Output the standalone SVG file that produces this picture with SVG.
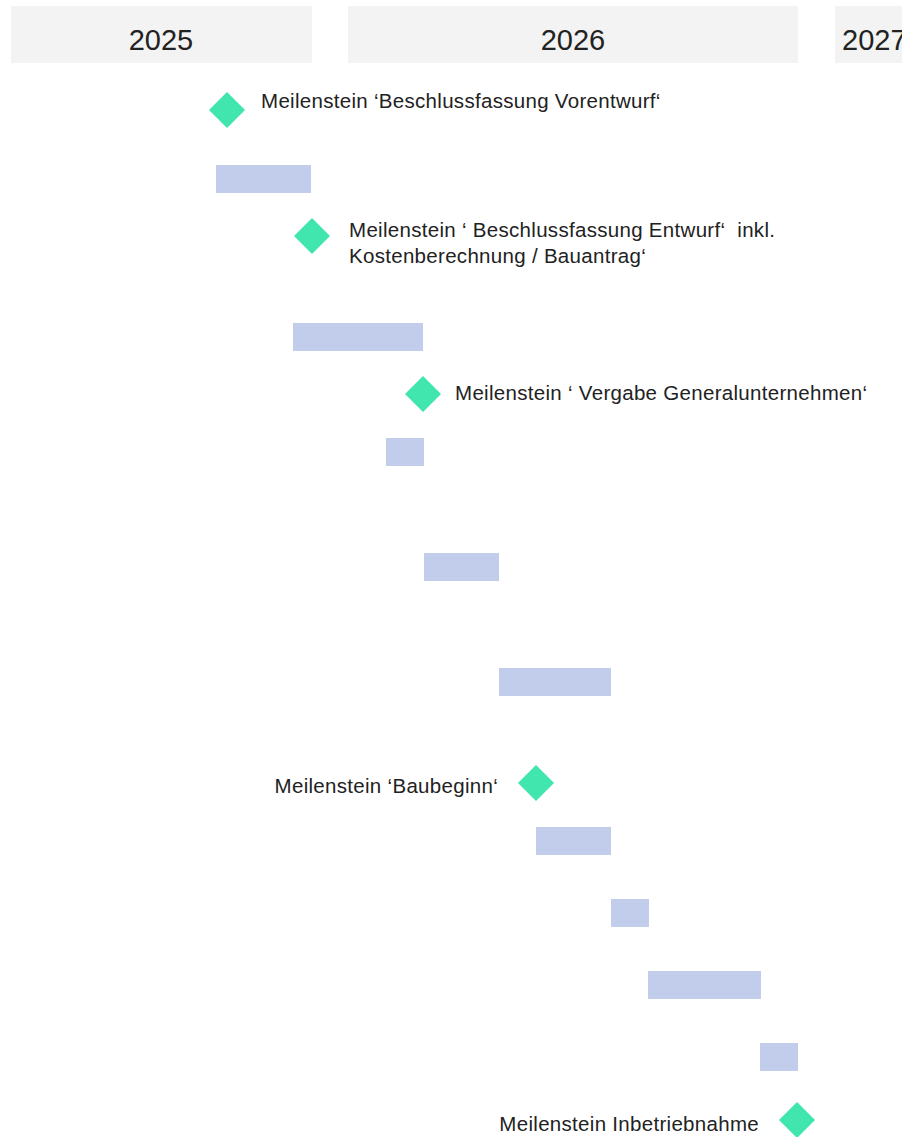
<svg xmlns="http://www.w3.org/2000/svg" width="902" height="1137" viewBox="0 0 902 1137">
<style>
.yr{fill:#f3f3f3}
.yt{font-family:"Liberation Sans",Arial,sans-serif;font-size:29px;fill:#222;text-anchor:middle}
.bar{fill:#c1cdeb}
.ms{fill:#40e6ae}
.lb{font-family:"Liberation Sans",Arial,sans-serif;font-size:20.5px;letter-spacing:0.3px;fill:#222}
.end{text-anchor:end}
</style>
<defs>
<path id="dia" d="M0,-18 L18,0 L0,18 L-18,0 Z"/>
</defs>
<rect width="902" height="1137" fill="#fff"/>
<g id="header">
<g id="y2025"><rect class="yr" x="11" y="6" width="301" height="57"/><text class="yt" x="161" y="50">2025</text></g>
<g id="y2026"><rect class="yr" x="348" y="6" width="450" height="57"/><text class="yt" x="573" y="50">2026</text></g>
<g id="y2027"><rect class="yr" x="835" y="6" width="80" height="57"/><text class="yt" x="842" y="50" style="text-anchor:start">2027</text></g>
</g>
<g id="connectors"></g>
<g id="m1"><use href="#dia" class="ms" x="227" y="110"/><text class="lb" x="261" y="108">Meilenstein ‘Beschlussfassung Vorentwurf‘</text></g>
<g id="b1"><rect class="bar" x="216" y="165" width="95" height="28"/></g>
<g id="m2"><use href="#dia" class="ms" x="312" y="236"/><text class="lb" x="349" y="237">Meilenstein ‘ Beschlussfassung Entwurf‘&#160;&#160;inkl.</text><text class="lb" x="349" y="263">Kostenberechnung / Bauantrag‘</text></g>
<g id="b2"><rect class="bar" x="293" y="323" width="130" height="28"/></g>
<g id="m3"><use href="#dia" class="ms" x="423" y="394"/><text class="lb" x="455" y="400">Meilenstein ‘ Vergabe Generalunternehmen‘</text></g>
<g id="b3"><rect class="bar" x="386" y="438" width="38" height="28"/></g>
<g id="b4"><rect class="bar" x="424" y="553" width="75" height="28"/></g>
<g id="b5"><rect class="bar" x="499" y="668" width="112" height="28"/></g>
<g id="m4"><use href="#dia" class="ms" x="536" y="783"/><text class="lb end" x="498" y="793">Meilenstein ‘Baubeginn‘</text></g>
<g id="b6"><rect class="bar" x="536" y="827" width="75" height="28"/></g>
<g id="b7"><rect class="bar" x="611" y="899" width="38" height="28"/></g>
<g id="b8"><rect class="bar" x="648" y="971" width="113" height="28"/></g>
<g id="b9"><rect class="bar" x="760" y="1043" width="38" height="28"/></g>
<g id="m5"><use href="#dia" class="ms" x="797" y="1120"/><text class="lb end" x="759" y="1131">Meilenstein Inbetriebnahme</text></g>
</svg>
